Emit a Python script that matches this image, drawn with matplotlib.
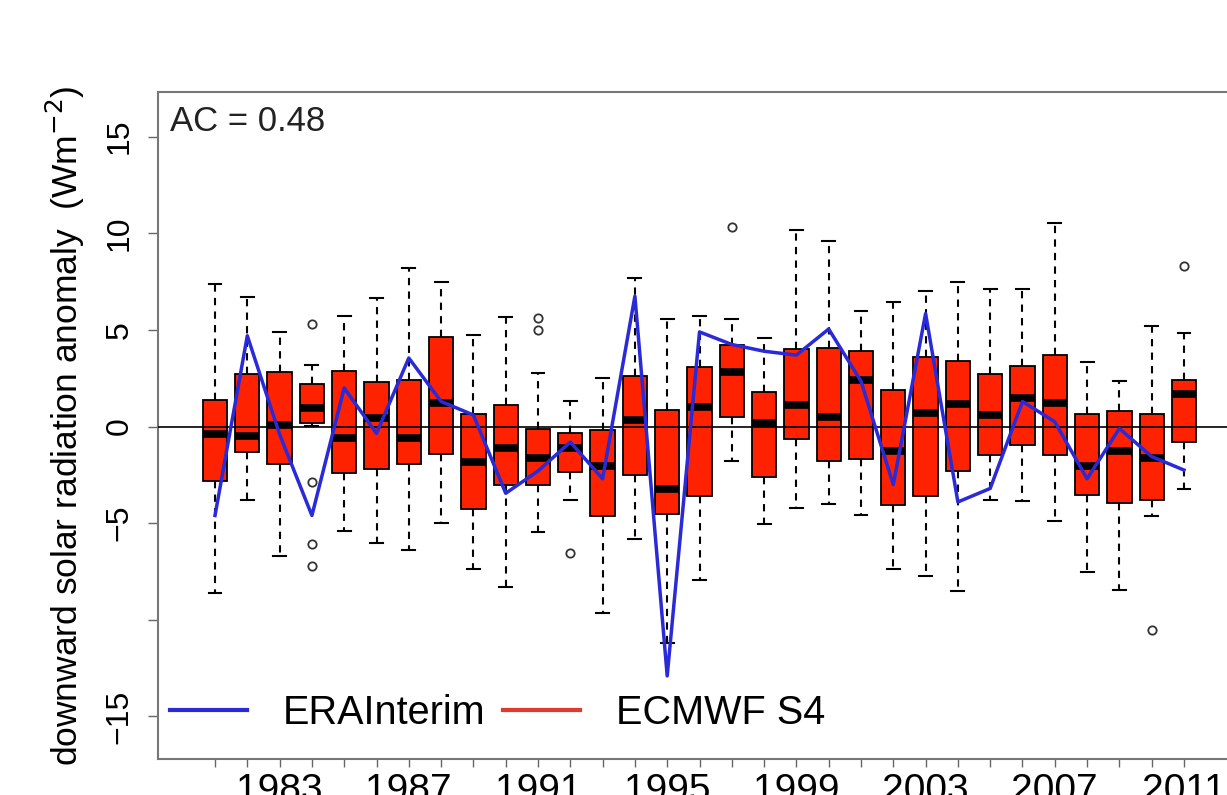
import matplotlib
matplotlib.use("Agg")
import matplotlib.pyplot as plt
from matplotlib.lines import Line2D

plt.rcParams['font.family'] = ['Liberation Sans', 'DejaVu Sans']

years = list(range(1981, 2012))
q3 = [1.4, 2.7, 2.8, 2.2, 2.9, 2.3, 2.4, 4.65, 0.65, 1.1,
      -0.1, -0.35, -0.2, 2.6, 0.85, 3.1, 4.2, 1.8, 4.0, 4.05,
      3.9, 1.9, 3.6, 3.4, 2.7, 3.15, 3.7, 0.65, 0.8, 0.65, 2.4]
med = [-0.4, -0.5, 0.1, 0.95, -0.6, 0.45, -0.6, 1.2, -1.85, -1.1,
       -1.65, -1.1, -2.05, 0.35, -3.25, 1.0, 2.8, 0.2, 1.1, 0.5,
       2.4, -1.25, 0.7, 1.15, 0.6, 1.5, 1.2, -2.05, -1.25, -1.65, 1.7]
q1 = [-2.8, -1.3, -1.95, 0.2, -2.4, -2.2, -1.95, -1.4, -4.25, -3.0,
      -3.0, -2.35, -4.6, -2.5, -4.5, -3.6, 0.5, -2.6, -0.65, -1.8,
      -1.7, -4.05, -3.6, -2.3, -1.45, -0.95, -1.45, -3.55, -3.95, -3.8, -0.8]
whis_hi = [7.4, 6.7, 4.9, 3.2, 5.7, 6.65, 8.2, 7.5, 4.75, 5.65,
           2.75, 1.3, 2.5, 7.7, 5.55, 5.7, 5.55, 4.6, 10.15, 9.6,
           6.0, 6.45, 7.0, 7.5, 7.1, 7.1, 10.55, 3.35, 2.35, 5.2, 4.85]
whis_lo = [-8.6, -3.8, -6.7, 0.05, -5.4, -6.0, -6.4, -5.0, -7.35, -8.3,
           -5.45, -3.8, -9.65, -5.8, -11.2, -7.95, -1.8, -5.05, -4.2, -4.0,
           -4.55, -7.35, -7.75, -8.5, -3.8, -3.85, -4.9, -7.5, -8.45, -4.6, -3.25]
outliers = [[], [], [], [5.3, -2.85, -6.1, -7.2], [], [], [], [], [], [],
            [5.6, 5.0], [-6.55], [], [], [], [], [10.35], [], [], [],
            [], [], [], [], [], [], [], [], [], [-10.55], [8.3]]
era_interim = [-4.6, 4.7, -0.4, -4.6, 2.0, -0.35, 3.55, 1.3, 0.6, -3.45,
               -2.3, -0.8, -2.7, 6.75, -12.9, 4.9, 4.25, 3.9, 3.7, 5.05,
               2.35, -3.0, 5.85, -3.9, -3.2, 1.3, 0.25, -2.7, -0.1, -1.55, -2.25]
labelled_years = [1983, 1987, 1991, 1995, 1999, 2003, 2007, 2011]
yticks = [-15, -10, -5, 0, 5, 10, 15]
ytick_labels = ['\u221215', '', '\u22125', '0', '5', '10', '15']
ac_text = 'AC = 0.48'
legend_labels = ['ERAInterim', 'ECMWF S4']

W, H = 1227, 795
fig = plt.figure(figsize=(W / 100, H / 100), dpi=100)
ax = fig.add_axes([158 / W, 1 - 759 / H, 1083 / W, (759 - 91.7) / H])

stats = []
for i in range(len(years)):
    stats.append(dict(med=med[i], q1=q1[i], q3=q3[i], whislo=whis_lo[i],
                      whishi=whis_hi[i], fliers=outliers[i], label=str(years[i])))

red = '#ff2200'
blue = '#2a2ad8'
ax.bxp(stats, positions=years, widths=0.75, patch_artist=True,
       boxprops=dict(facecolor=red, edgecolor='black', linewidth=1.3),
       medianprops=dict(color='black', linewidth=5.5, solid_capstyle='butt'),
       whiskerprops=dict(color='black', linewidth=1.5, linestyle=(0, (3.5, 3))),
       capprops=dict(color='black', linewidth=1.5),
       capwidths=0.4,
       flierprops=dict(marker='o', markersize=6, markerfacecolor='none',
                       markeredgecolor='#333333', markeredgewidth=1.3),
       manage_ticks=False, zorder=2)

ax.axhline(0, color='black', linewidth=1.2, zorder=3)
ax.plot(years, era_interim, color=blue, linewidth=2.5, zorder=4)

ax.set_xlim(years[0] - 1.765, years[-1] + 1.765)
ax.set_ylim(-17.2, 17.33)

ax.set_xticks(years)
ax.set_xticklabels([str(y) if y in labelled_years else '' for y in years],
                   fontsize=28)
ax.tick_params(axis='x', direction='out', length=6, width=1, color='#666666',
               pad=4)

ax.set_yticks(yticks)
ax.set_yticklabels(ytick_labels, fontsize=23, rotation=90, va='center')
ax.tick_params(axis='y', direction='out', length=7, width=1, color='#666666',
               pad=10)

for s in ['top', 'left', 'bottom', 'right']:
    ax.spines[s].set_color('#777777')
    ax.spines[s].set_linewidth(1.5)

ax.set_ylabel('downward solar radiation anomaly  (Wm$^{-2}$)', fontsize=25.5)
ax.yaxis.set_label_coords((65 - 158) / 1083, 0.5)
ax.yaxis.label.set_verticalalignment('center')

ax.text(12 / 1083, 1 - 30 / 667.3, ac_text, transform=ax.transAxes,
        fontsize=25, ha='left', va='center', color='#222222')

handles = [Line2D([], [], color=blue, linewidth=3),
           Line2D([], [], color='#e03a30', linewidth=3)]
fs_leg = 28.5
leg = ax.legend(handles, legend_labels, loc='center left',
                bbox_to_anchor=(170 / W, 1 - 713 / H), bbox_transform=fig.transFigure,
                ncol=2, frameon=False, fontsize=fs_leg, borderpad=0, borderaxespad=0,
                handlelength=77 / (fs_leg * 100 / 72), handletextpad=36 / (fs_leg * 100 / 72),
                columnspacing=17 / (fs_leg * 100 / 72))

fig.savefig('out.png', dpi=100)
